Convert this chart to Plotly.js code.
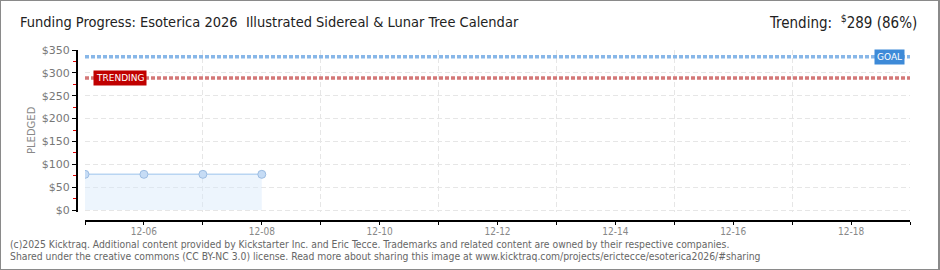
<!DOCTYPE html>
<html><head><meta charset="utf-8">
<script src="https://cdn.plot.ly/plotly-3.0.1.min.js"></script>
<style>
html,body{margin:0;padding:0;background:#fff;}
#frame{width:940px;height:270px;box-sizing:border-box;border:1px solid #8a8a8a;border-right-width:2px;}
#chart{width:937px;height:268px;}
</style></head><body>
<div id="frame"><div id="chart"></div></div>
<script>
const titleText = "Funding Progress: Esoterica 2026  Illustrated Sidereal &amp; Lunar Tree Calendar";
const trendingText = "Trending:  <sup>$</sup>289 (86%)";
const dates = ["2025-12-05", "2025-12-06", "2025-12-07", "2025-12-08"];
const pledged = [78, 78, 78, 78];
const rangeDates = ["2025-12-05", "2025-12-19"];
const goal = 335;
const trending = 289;
const footer1 = "(c)2025 Kicktraq. Additional content provided by Kickstarter Inc. and Eric Tecce. Trademarks and related content are owned by their respective companies.";
const footer2 = "Shared under the creative commons (CC BY-NC 3.0) license. Read more about sharing this image at www.kicktraq.com/projects/erictecce/esoterica2026/#sharing";

const W = 937, H = 268, L = 75, R = 28, T = 49, B = 49;
const pw = W - L - R, ph = H - T - B;
const narrow = '"DejaVu Sans Condensed", sans-serif';

const traces = [
  {x: dates, y: pledged, type: 'scatter', mode: 'lines+markers', fill: 'tozeroy',
   fillcolor: 'rgba(214,232,250,0.45)',
   line: {color: '#b9d5f2', width: 1.5},
   marker: {size: 8, color: '#c6dcf5', line: {color: '#9dbde2', width: 1}},
   hoverinfo: 'skip', showlegend: false},
  {x: rangeDates, y: [goal, goal], type: 'scatter', mode: 'lines',
   line: {color: '#88b7e8', width: 3.5, dash: '4px,2px'}, hoverinfo: 'skip', showlegend: false},
  {x: rangeDates, y: [trending, trending], type: 'scatter', mode: 'lines',
   line: {color: '#d47878', width: 3.5, dash: '4px,2px'}, hoverinfo: 'skip', showlegend: false}
];

const layout = {
  width: W, height: H,
  margin: {l: L, r: R, t: T, b: B, pad: 0},
  paper_bgcolor: '#fff', plot_bgcolor: '#fff',
  font: {family: 'DejaVu Sans, sans-serif', color: '#888'},
  title: {text: titleText, xref: 'container', yref: 'container', x: 19/W, xanchor: 'left',
          y: 1 - 21/H, yanchor: 'middle',
          font: {family: narrow, size: 14.5, color: '#222'}},
  xaxis: {
    type: 'date', range: rangeDates, domain: [9/pw, 1], anchor: 'free', position: 0,
    showline: true, linecolor: '#000', linewidth: 1.5,
    ticks: 'outside', ticklen: 3, tickcolor: '#000', tickwidth: 1,
    dtick: 2*86400000, tick0: '2025-12-06', tickformat: '%m-%d',
    ticklabelstandoff: -2,
    tickfont: {size: 10, color: '#888', family: narrow},
    showgrid: false, zeroline: false,
    minor: {dtick: 86400000, tick0: '2025-12-05', ticks: 'outside', ticklen: 3, tickcolor: '#000',
            showgrid: true, gridcolor: '#e6e6e6', griddash: '5px,3px', gridwidth: 1}
  },
  yaxis: {
    range: [-2/(160/350), 350], domain: [8/ph, 1], anchor: 'free', position: 0,
    showline: true, linecolor: '#000', linewidth: 1.5,
    ticks: 'outside', ticklen: 4, tickcolor: '#000',
    dtick: 50, tick0: 0, tickprefix: '$',
    tickfont: {size: 11, color: '#777', family: '"DejaVu Sans", sans-serif'},
    showgrid: true, gridcolor: '#e6e6e6', griddash: '5px,3px', zeroline: false,
    minor: {dtick: 25, ticks: 'outside', ticklen: 3, tickcolor: '#e00000', showgrid: false}
  },
  annotations: [
    {text: trendingText, xref: 'paper', yref: 'paper', x: (919 - 1 - L)/pw, xanchor: 'right',
     y: (ph + T - 21)/ph, yanchor: 'middle', showarrow: false,
     font: {family: narrow, size: 15, color: '#222'}},
    {text: 'PLEDGED', xref: 'paper', yref: 'paper', x: (31 - 1 - L)/pw, y: (H - B - 129)/ph,
     xanchor: 'center', yanchor: 'middle', textangle: -90, showarrow: false,
     font: {size: 10, color: '#888', family: 'DejaVu Sans, sans-serif'}},
    {text: 'GOAL', xref: 'paper', yref: 'y', x: (905 - 1 - L)/pw, xanchor: 'right', y: goal, yanchor: 'middle',
     showarrow: false, bgcolor: '#3d8ad8', borderpad: 2,
     font: {size: 9, color: '#fff', family: 'DejaVu Sans, sans-serif'}},
    {text: 'TRENDING', xref: 'paper', yref: 'y', x: (93 - 1 - L)/pw, xanchor: 'left', y: trending, yanchor: 'middle',
     showarrow: false, bgcolor: '#c00000', borderpad: 2,
     font: {size: 9, color: '#fff', family: 'DejaVu Sans, sans-serif'}},
    {text: footer1, xref: 'paper', yref: 'paper', x: (8 - 1 - L)/pw, xanchor: 'left',
     y: (H - B - 243)/ph, yanchor: 'middle', showarrow: false,
     font: {size: 10.3, color: '#666', family: narrow}},
    {text: footer2, xref: 'paper', yref: 'paper', x: (8 - 1 - L)/pw, xanchor: 'left',
     y: (H - B - 255)/ph, yanchor: 'middle', showarrow: false,
     font: {size: 10.3, color: '#666', family: narrow}}
  ]
};
Plotly.newPlot('chart', traces, layout, {displayModeBar: false, staticPlot: true});
</script></body></html>
